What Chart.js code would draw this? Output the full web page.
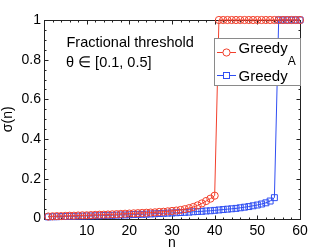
<!DOCTYPE html>
<html>
<head>
<meta charset="utf-8">
<script src="https://cdn.jsdelivr.net/npm/chart.js@4"></script>
<style>
  html, body { margin: 0; padding: 0; background: #fff; }
  #chart { display: block; }
</style>
</head>
<body>
<canvas id="chart" width="332" height="250"></canvas>
<script>
// ============================================
// DATA
// ============================================
const nValues = [
  1, 2, 3, 4, 5, 6, 7, 8, 9, 10,
  11, 12, 13, 14, 15, 16, 17, 18, 19, 20,
  21, 22, 23, 24, 25, 26, 27, 28, 29, 30,
  31, 32, 33, 34, 35, 36, 37, 38, 39, 40,
  41, 42, 43, 44, 45, 46, 47, 48, 49, 50,
  51, 52, 53, 54, 55, 56, 57, 58, 59, 60
];

// Greedy_A (red circles)
const greedyAValues = [
  0.010, 0.011, 0.012, 0.012, 0.013, 0.014, 0.014, 0.015, 0.016, 0.016,
  0.017, 0.018, 0.019, 0.019, 0.020, 0.021, 0.022, 0.023, 0.024, 0.025,
  0.026, 0.027, 0.028, 0.029, 0.030, 0.031, 0.033, 0.034, 0.036, 0.038,
  0.040, 0.043, 0.047, 0.052, 0.058, 0.066, 0.076, 0.088, 0.100, 0.115,
  1, 1, 1, 1, 1, 1, 1, 1, 1, 1,
  1, 1, 1, 1, 1, 1, 1, 1, 1, 1
];

// Greedy (blue squares)
const greedyValues = [
  0.008, 0.009, 0.009, 0.010, 0.010, 0.011, 0.011, 0.012, 0.012, 0.013,
  0.013, 0.014, 0.014, 0.015, 0.016, 0.016, 0.017, 0.018, 0.018, 0.019,
  0.020, 0.021, 0.021, 0.022, 0.023, 0.024, 0.025, 0.026, 0.027, 0.028,
  0.029, 0.030, 0.031, 0.032, 0.034, 0.035, 0.036, 0.038, 0.039, 0.041,
  0.043, 0.045, 0.047, 0.049, 0.051, 0.054, 0.057, 0.060, 0.064, 0.068,
  0.073, 0.079, 0.088, 0.105, 1, 1, 1, 1, 1, 1
];

const xTickValues = [0, 10, 20, 30, 40, 50, 60];
const yTickValues = [0, 0.2, 0.4, 0.6, 0.8, 1];

const RED = "#f2402c";
const BLUE = "#2f4ef2";
const FONT = "'Liberation Sans', Arial, Helvetica, sans-serif";

function toPoints(values) {
  return values.map((v, i) => ({ x: nValues[i], y: v }));
}

// ============================================
// FRAME, INWARD TICKS, TEXT AND LEGEND
// ============================================
const framePlugin = {
  id: "framePlugin",
  beforeDatasetsDraw(chart) {
    const { ctx, chartArea: a, scales } = chart;
    const L = Math.round(a.left) + 0.5, R = Math.round(a.right) + 0.5;
    const T = Math.round(a.top) + 0.5, B = Math.round(a.bottom) + 0.5;
    ctx.save();
    ctx.strokeStyle = "#222";
    ctx.lineWidth = 1;
    ctx.beginPath();

    // x ticks (major every 10, minor every 2)
    for (let v = 0; v <= 60; v += 2) {
      const px = Math.round(scales.x.getPixelForValue(v)) + 0.5;
      const len = xTickValues.includes(v) ? 4 : 2;
      ctx.moveTo(px, B); ctx.lineTo(px, B - len);
      ctx.moveTo(px, T); ctx.lineTo(px, T + len);
    }
    // y ticks (major every 0.2, minor every 0.05)
    for (let k = 0; k <= 20; k++) {
      const v = k * 0.05;
      const py = Math.round(scales.y.getPixelForValue(v)) + 0.5;
      const len = k % 4 === 0 ? 4 : 2;
      ctx.moveTo(L, py); ctx.lineTo(L + len, py);
      ctx.moveTo(R, py); ctx.lineTo(R - len, py);
    }
    ctx.stroke();

    ctx.strokeRect(L, T, R - L, B - T);
    ctx.restore();
  },
  afterDraw(chart) {
    const ctx = chart.ctx;
    ctx.save();
    ctx.fillStyle = "#000";
    ctx.textBaseline = "alphabetic";
    ctx.textAlign = "left";

    // annotation
    ctx.font = "14.5px " + FONT;
    ctx.fillText("Fractional threshold", 66.5, 46.5);
    ctx.fillText("θ ∈ [0.1, 0.5]", 66, 66.5);

    // legend box
    ctx.fillStyle = "#fff";
    ctx.fillRect(214.5, 38.5, 86, 47);
    ctx.strokeStyle = "#8a8a8a";
    ctx.lineWidth = 1;
    ctx.strokeRect(214.5, 38.5, 86, 47);

    // entry 1: Greedy_A
    ctx.strokeStyle = RED;
    ctx.beginPath();
    ctx.moveTo(217, 52.5); ctx.lineTo(236, 52.5);
    ctx.stroke();
    ctx.beginPath();
    ctx.arc(226.5, 52.5, 3.6, 0, Math.PI * 2);
    ctx.fillStyle = "#fff";
    ctx.fill();
    ctx.stroke();

    ctx.fillStyle = "#000";
    ctx.font = "15px " + FONT;
    ctx.fillText("Greedy", 238.5, 53);
    const w = ctx.measureText("Greedy").width;
    ctx.font = "12px " + FONT;
    ctx.fillText("A", 238.5 + w, 65);

    // entry 2: Greedy
    ctx.strokeStyle = BLUE;
    ctx.beginPath();
    ctx.moveTo(217, 75.5); ctx.lineTo(236, 75.5);
    ctx.stroke();
    ctx.fillStyle = "#fff";
    ctx.fillRect(223.5, 72.5, 6, 6);
    ctx.strokeRect(223.5, 72.5, 6, 6);

    ctx.fillStyle = "#000";
    ctx.font = "15px " + FONT;
    ctx.fillText("Greedy", 238.5, 80.5);

    ctx.restore();
  }
};

// ============================================
// CHART
// ============================================
const ctx = document.getElementById("chart").getContext("2d");
new Chart(ctx, {
  type: "line",
  data: {
    datasets: [
      {
        label: "Greedy_A",
        data: toPoints(greedyAValues),
        borderColor: RED,
        backgroundColor: "rgba(255,255,255,0)",
        borderWidth: 1,
        pointStyle: "circle",
        pointRadius: 3.6,
        pointBorderWidth: 1,
        pointBorderColor: RED,
        pointBackgroundColor: "rgba(255,255,255,0)",
        tension: 0,
        clip: false
      },
      {
        label: "Greedy",
        data: toPoints(greedyValues),
        borderColor: BLUE,
        backgroundColor: "rgba(255,255,255,0)",
        borderWidth: 1,
        pointStyle: "rect",
        pointRadius: 4.2,
        pointBorderWidth: 1,
        pointBorderColor: BLUE,
        pointBackgroundColor: "rgba(255,255,255,0)",
        tension: 0,
        clip: false
      }
    ]
  },
  options: {
    responsive: false,
    animation: false,
    events: [],
    layout: { padding: { left: 0, top: 20, right: 32, bottom: 0 } },
    plugins: {
      legend: { display: false },
      tooltip: { enabled: false }
    },
    scales: {
      x: {
        type: "linear",
        min: 0,
        max: 60,
        grid: { display: false, drawTicks: false },
        border: { display: false },
        afterFit(scale) { scale.height = 31.5; },
        afterBuildTicks(scale) { scale.ticks = xTickValues.map(v => ({ value: v })); },
        ticks: {
          padding: 4,
          color: "#000",
          font: { family: FONT, size: 14 },
          maxRotation: 0,
          callback: v => (v === 0 ? "" : String(v))
        },
        title: {
          display: true,
          text: "n",
          color: "#000",
          font: { family: FONT, size: 14 },
          padding: { top: 0, bottom: -2 }
        }
      },
      y: {
        type: "linear",
        min: 0,
        max: 1,
        grid: { display: false, drawTicks: false },
        border: { display: false },
        afterFit(scale) { scale.width = 44; },
        afterBuildTicks(scale) { scale.ticks = yTickValues.map(v => ({ value: v })); },
        ticks: {
          padding: 3,
          color: "#000",
          font: { family: FONT, size: 14 },
          callback: v => String(v)
        },
        title: {
          display: true,
          text: "σ(n)",
          color: "#000",
          font: { family: FONT, size: 14 },
          padding: { top: 0, bottom: 0 }
        }
      }
    }
  },
  plugins: [framePlugin]
});
</script>
</body>
</html>
